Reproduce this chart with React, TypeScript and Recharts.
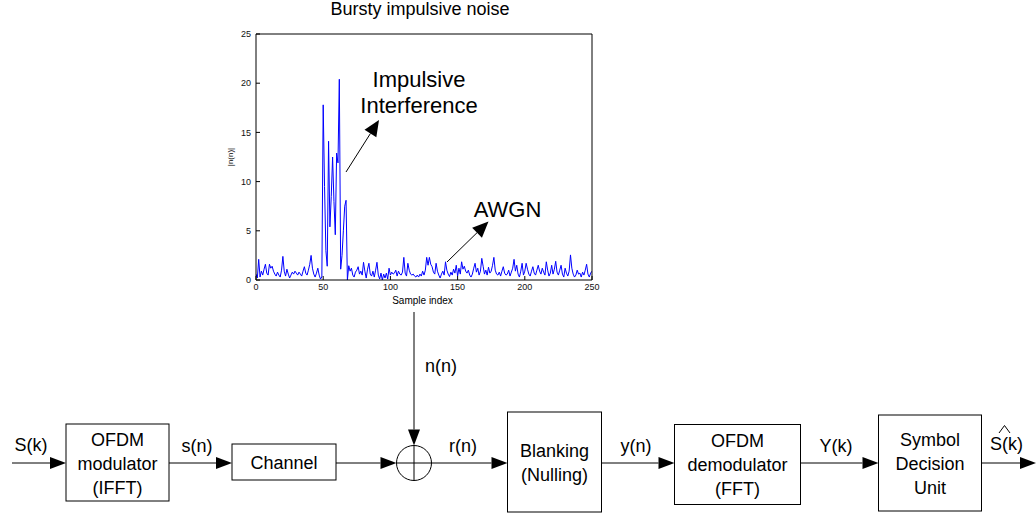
import React from "react";
import { LineChart, Line, XAxis, YAxis } from "recharts";

// |n(n)|, one value per sample index 0..250
const noiseMagnitude: number[] = [
  0.6, 0.2, 2.1, 0.3, 0.9, 0.5, 1.1, 1.6, 0.7, 0.5,
  1.6, 1.2, 1.4, 0.9, 0.6, 0.4, 0.8, 0.5, 0.3, 1.0,
  2.4, 0.9, 0.4, 1.1, 0.6, 0.2, 0.5, 0.8, 0.6, 0.9,
  0.7, 0.5, 0.8, 0.6, 0.4, 0.9, 1.35, 0.7, 0.5, 1.0,
  1.6, 2.5, 1.2, 0.6, 0.3, 0.7, 1.2, 0.5, 0.1, 0.3,
  17.8, 9.5, 3.0, 1.4, 14.1, 5.4, 8.5, 12.5, 8.0, 4.6,
  12.9, 11.9, 20.4, 1.1, 2.5, 5.0, 7.5, 8.1, 0.0, 1.45,
  0.9, 1.2, 0.5, 0.3, 0.8, 1.0, 1.35, 0.6, 0.9, 0.5,
  1.8, 0.9, 0.2, 1.1, 1.7, 0.6, 0.4, 0.9, 0.3, 1.0,
  1.8, 0.5, 0.1, 0.7, 0.0, 0.6, 0.2, 0.7, 0.1, 1.2,
  0.5, 0.8, 0.6, 0.7, 1.0, 0.4, 0.9, 0.6, 0.5, 0.8,
  2.3, 0.7, 0.4, 1.7, 1.0, 0.6, 0.5, 0.6, 0.4, 0.3,
  0.5, 0.3, 0.6, 0.4, 0.9, 0.5, 1.0, 2.3, 1.5, 2.3,
  1.6, 1.35, 0.8, 0.6, 1.7, 0.9, 0.5, 0.2, 0.6, 0.9,
  0.5, 1.85, 1.0, 0.6, 0.35, 0.8, 0.5, 1.1, 0.7, 1.5,
  0.4, 1.2, 0.6, 1.85, 1.1, 1.4, 0.9, 0.7, 1.0, 0.5,
  0.3, 0.6, 1.2, 1.7, 0.8, 1.2, 0.5, 0.9, 2.2, 1.4,
  0.6, 1.0, 0.5, 1.3, 0.7, 0.9, 1.5, 2.3, 1.0, 0.6,
  0.5, 0.8, 0.4, 0.9, 1.35, 0.7, 0.5, 0.6, 1.0, 0.4,
  0.8, 1.2, 2.1, 0.9, 1.5, 0.6, 0.3, 0.9, 1.7, 0.5,
  0.9, 1.7, 1.1, 0.6, 0.4, 0.9, 1.35, 0.7, 0.5, 1.0,
  1.5, 0.9, 0.6, 1.2, 0.8, 0.5, 1.85, 1.0, 0.4, 0.7,
  1.5, 0.6, 1.1, 1.9, 0.8, 0.5, 1.0, 1.5, 0.6, 0.3,
  1.2, 0.7, 0.4, 0.9, 2.55, 1.2, 0.6, 0.3, 0.5, 1.0,
  0.6, 0.7, 0.3, 0.8, 0.5, 1.0, 1.6, 0.6, 0.3, 0.7,
  0.9,
];
const xTicks = [0, 50, 100, 150, 200, 250];
const yTicks = [0, 5, 10, 15, 20, 25];

const chartData = noiseMagnitude.map((v, i) => ({ idx: i, v }));

const FONT = "'Liberation Sans', Arial, Helvetica, sans-serif";

function Arrow({ x1, y1, x2, y2, len = 16, half = 6 }: { x1: number; y1: number; x2: number; y2: number; len?: number; half?: number }) {
  const dx = x2 - x1;
  const dy = y2 - y1;
  const d = Math.hypot(dx, dy);
  const ux = dx / d;
  const uy = dy / d;
  const bx = x2 - ux * len;
  const by = y2 - uy * len;
  const px = -uy * half;
  const py = ux * half;
  return (
    <g>
      <line x1={x1} y1={y1} x2={bx} y2={by} stroke="#000" strokeWidth={1} />
      <polygon points={`${x2},${y2} ${bx + px},${by + py} ${bx - px},${by - py}`} fill="#000" />
    </g>
  );
}

function Block({ x, y, w, h, lines, baselines }: { x: number; y: number; w: number; h: number; lines: string[]; baselines: number[] }) {
  return (
    <g>
      <rect x={x} y={y} width={w} height={h} fill="#fff" stroke="#000" strokeWidth={1} />
      {lines.map((t, i) => (
        <text key={t} x={x + w / 2} y={baselines[i]} textAnchor="middle" fontSize={18}>
          {t}
        </text>
      ))}
    </g>
  );
}

function NoiseChart() {
  return (
    <div style={{ position: "absolute", left: 200, top: 0, width: 420, height: 310 }}>
      <LineChart width={420} height={310} data={chartData} margin={{ top: 33, right: 27, bottom: 0, left: 0 }} style={{ fontFamily: FONT }}>
        <XAxis
          xAxisId="b"
          dataKey="idx"
          type="number"
          domain={[0, 250]}
          ticks={xTicks}
          allowDataOverflow
          height={30}
          tickSize={-4}
          tickMargin={8}
          stroke="#000"
          tick={{ fontSize: 9, fill: "#111" }}
        />
        <XAxis xAxisId="t" orientation="top" dataKey="idx" type="number" domain={[0, 250]} ticks={xTicks} allowDataOverflow height={1} tickSize={-4} stroke="#000" tick={false} />
        <YAxis
          yAxisId="l"
          type="number"
          domain={[0, 25]}
          ticks={yTicks}
          allowDataOverflow
          width={56}
          tickSize={-4}
          tickMargin={9}
          stroke="#000"
          tick={{ fontSize: 9, fill: "#111" }}
        />
        <YAxis yAxisId="r" orientation="right" type="number" domain={[0, 25]} ticks={yTicks} allowDataOverflow width={1} tickSize={-4} stroke="#000" tick={false} />
        <Line xAxisId="t" yAxisId="r" dataKey="v" type="linear" stroke="none" dot={false} activeDot={false} isAnimationActive={false} />
        <Line xAxisId="b" yAxisId="l" dataKey="v" type="linear" stroke="#0000ff" strokeWidth={1} dot={false} activeDot={false} isAnimationActive={false} />
      </LineChart>
    </div>
  );
}

export default function App() {
  return (
    <div style={{ position: "absolute", left: 0, top: 0, width: 1036, height: 518, background: "#fff", overflow: "hidden", fontFamily: FONT }}>
      <NoiseChart />
      <svg width={1036} height={518} style={{ position: "absolute", left: 0, top: 0, pointerEvents: "none", fontFamily: FONT }}>
        {/* chart labels and annotations */}
        <text x={420} y={15} textAnchor="middle" fontSize={18}>Bursty impulsive noise</text>
        <text x={422.5} y={304} textAnchor="middle" fontSize={10}>Sample index</text>
        <text x={0} y={0} textAnchor="middle" fontSize={8} transform="translate(233,157) rotate(-90)">|n(n)|</text>
        <text x={419} y={87} textAnchor="middle" fontSize={22}>Impulsive</text>
        <text x={419} y={113} textAnchor="middle" fontSize={22}>Interference</text>
        <Arrow x1={346} y1={172} x2={379} y2={120} len={16} half={7} />
        <text x={507.5} y={217} textAnchor="middle" fontSize={22}>AWGN</text>
        <Arrow x1={447} y1={262} x2={488.5} y2={221.5} len={16} half={7} />

        {/* block diagram */}
        <Arrow x1={12} y1={463} x2={66} y2={463} />
        <text x={31} y={451} textAnchor="middle" fontSize={18}>S(k)</text>
        <Block x={66} y={424} w={103} h={77} lines={["OFDM", "modulator", "(IFFT)"]} baselines={[446, 470, 494]} />
        <Arrow x1={169} y1={463} x2={232} y2={463} />
        <text x={197} y={452} textAnchor="middle" fontSize={18}>s(n)</text>
        <Block x={232} y={444} w={104} h={36} lines={["Channel"]} baselines={[469]} />
        <Arrow x1={336} y1={463} x2={396.5} y2={463} />
        <circle cx={414} cy={463} r={17.5} fill="none" stroke="#000" strokeWidth={1} />
        <line x1={396.5} y1={463} x2={431.5} y2={463} stroke="#000" strokeWidth={1} />
        <line x1={414} y1={445.5} x2={414} y2={480.5} stroke="#000" strokeWidth={1} />
        <Arrow x1={414} y1={312} x2={414} y2={445.5} />
        <text x={441} y={372} textAnchor="middle" fontSize={18}>n(n)</text>
        <Arrow x1={431.5} y1={463} x2={507.5} y2={463} />
        <text x={463} y={452} textAnchor="middle" fontSize={18}>r(n)</text>
        <Block x={507.5} y={412} w={94} h={100} lines={["Blanking", "(Nulling)"]} baselines={[457, 481]} />
        <Arrow x1={601.5} y1={463} x2={674.5} y2={463} />
        <text x={636} y={452} textAnchor="middle" fontSize={18}>y(n)</text>
        <Block x={674.5} y={424.5} w={126} h={80} lines={["OFDM", "demodulator", "(FFT)"]} baselines={[447, 471, 495]} />
        <Arrow x1={800.5} y1={463} x2={878.5} y2={463} />
        <text x={836} y={452} textAnchor="middle" fontSize={18}>Y(k)</text>
        <Block x={878.5} y={415} w={103} h={96} lines={["Symbol", "Decision", "Unit"]} baselines={[446, 470, 494]} />
        <Arrow x1={981.5} y1={463} x2={1036} y2={463} />
        <text x={1006.5} y={450} textAnchor="middle" fontSize={18}>S(k)</text>
        <polyline points="999,433 1004.5,425.5 1010,433" fill="none" stroke="#000" strokeWidth={1} />
      </svg>
    </div>
  );
}
